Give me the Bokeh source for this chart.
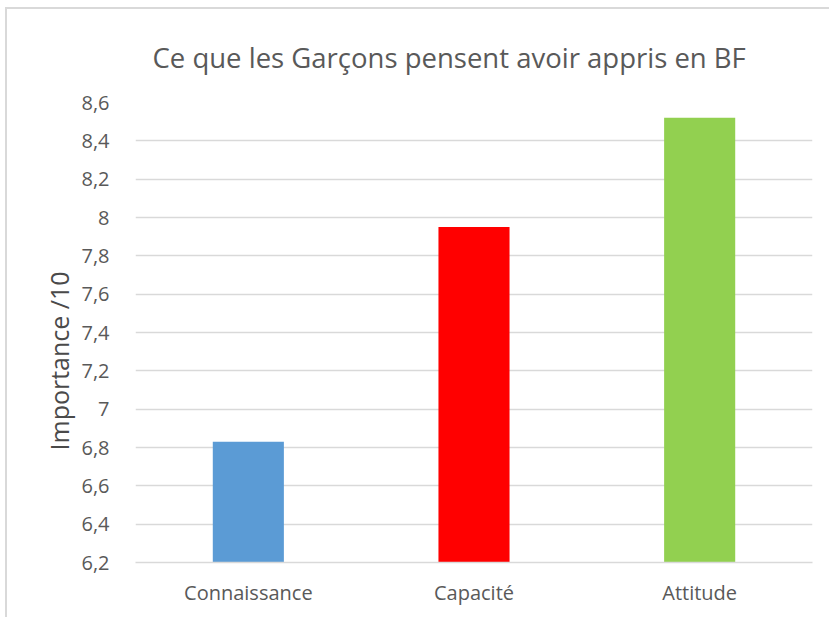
from bokeh.plotting import figure
from bokeh.models import CustomJSTickFormatter, FixedTicker, Range1d, Title
from bokeh.embed import file_html
from bokeh.resources import INLINE

categories = ["Connaissance", "Capacité", "Attitude"]
values = [6.83, 7.95, 8.52]
colors = ["#5B9BD5", "#FF0000", "#92D050"]
y_ticks = [6.2, 6.4, 6.6, 6.8, 7.0, 7.2, 7.4, 7.6, 7.8, 8.0, 8.2, 8.4, 8.6]
y_title = "Importance /10"

p = figure(x_range=categories, y_range=Range1d(6.2, 8.6), width=824, height=610,
           output_backend="svg", toolbar_location=None,
           title="Ce que les Garçons pensent avoir appris en BF",
           min_border_left=128, min_border_right=19, min_border_top=93, min_border_bottom=57)

p.vbar(x=categories, top=values, bottom=6.2, width=0.315, color=colors, line_color=None)

p.title.align = "left"
p.title.text_font = "Open Sans"
p.title.text_font_size = "27.5px"
p.title.text_font_style = "normal"
p.title.text_color = "#595959"
p.title.offset = 17
p.title.standoff = 53

p.yaxis.ticker = FixedTicker(ticks=y_ticks)
p.yaxis.formatter = CustomJSTickFormatter(code="""
var s = (Math.round(tick*10)/10).toString();
return s.replace('.', ',');
""")
p.yaxis.axis_line_color = None
p.yaxis.major_tick_line_color = None
p.yaxis.minor_tick_line_color = None
p.yaxis.major_label_text_font = "Open Sans"
p.yaxis.major_label_text_font_size = "20px"
p.yaxis.major_label_text_color = "#595959"
p.yaxis.major_label_standoff = 20

ylab = Title(text=y_title, align="left", offset=112, standoff=6,
             text_font="Open Sans", text_font_size="25px", text_font_style="normal",
             text_color="#4a4a4a")
p.add_layout(ylab, "left")

p.xaxis.axis_line_color = "#d9d9d9"
p.xaxis.axis_line_width = 1.5
p.xaxis.major_tick_line_color = None
p.xaxis.minor_tick_line_color = None
p.xaxis.major_label_text_font = "Open Sans"
p.xaxis.major_label_text_font_size = "20px"
p.xaxis.major_label_text_color = "#595959"
p.xaxis.major_label_standoff = 10

p.xgrid.grid_line_color = None
p.ygrid.grid_line_color = "#d9d9d9"
p.ygrid.grid_line_width = 1.5
p.outline_line_color = None
p.styles = {"border-left": "2px solid #d9d9d9", "border-top": "2px solid #d9d9d9",
            "margin-left": "5px", "margin-top": "7px"}

open("out.html", "w").write(file_html(p, INLINE))
